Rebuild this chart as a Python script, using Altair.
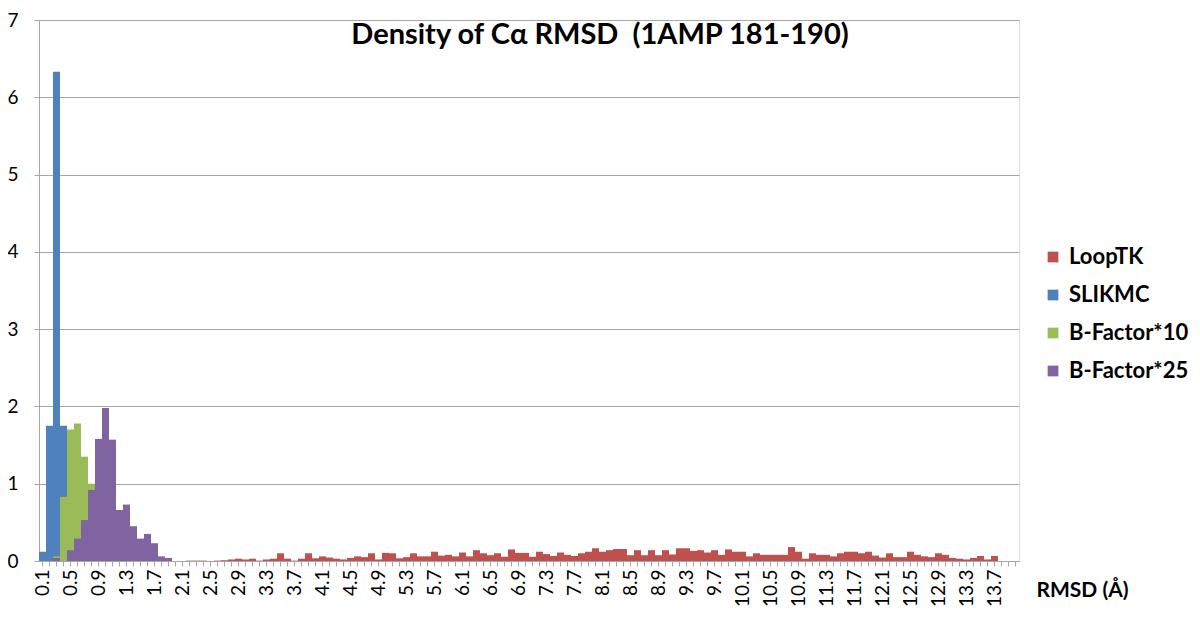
import altair as alt
import pandas as pd

# Bin labels (RMSD, Å)
categories = [f"{i / 10:.1f}" for i in range(1, 141)]

series_names = ["LoopTK", "SLIKMC", "B-Factor*10", "B-Factor*25"]
series_colors = ["#C0504D", "#4F81BD", "#9BBB59", "#8064A2"]

looptk = [
    0, 0, 0, 0, 0, 0, 0, 0, 0, 0,
    0, 0, 0, 0, 0, 0, 0, 0, 0, 0,
    0, 0.005, 0.005, 0.005, 0, 0.005, 0.01, 0.02, 0.03, 0.02,
    0.03, 0.005, 0.02, 0.03, 0.1, 0.03, 0.005, 0.03, 0.1, 0.035,
    0.06, 0.045, 0.03, 0.02, 0.04, 0.06, 0.05, 0.1, 0.02, 0.105,
    0.1, 0.035, 0.05, 0.1, 0.06, 0.06, 0.12, 0.07, 0.08, 0.06,
    0.11, 0.06, 0.14, 0.1, 0.075, 0.1, 0.055, 0.15, 0.105, 0.105,
    0.055, 0.12, 0.09, 0.065, 0.11, 0.08, 0.065, 0.1, 0.12, 0.165,
    0.12, 0.14, 0.155, 0.155, 0.075, 0.14, 0.075, 0.14, 0.075, 0.14,
    0.085, 0.165, 0.165, 0.13, 0.14, 0.11, 0.14, 0.08, 0.15, 0.12,
    0.12, 0.06, 0.1, 0.08, 0.08, 0.08, 0.08, 0.18, 0.12, 0.03,
    0.1, 0.08, 0.08, 0.06, 0.1, 0.12, 0.12, 0.1, 0.12, 0.07,
    0.045, 0.1, 0.05, 0.05, 0.12, 0.08, 0.06, 0.05, 0.1, 0.08,
    0.04, 0.03, 0.02, 0.04, 0.065, 0.02, 0.065, 0, 0, 0,
]

slikmc = [0.12, 1.75, 6.33, 1.75] + [0] * 136

bfactor10 = [0, 0, 0.06, 0.83, 1.70, 1.78, 1.35, 1.0, 0.4, 0.15, 0.05] + [0] * 129

bfactor25 = [0, 0, 0.04, 0, 0.14, 0.29, 0.53, 0.92, 1.58, 1.98,
             1.57, 0.66, 0.73, 0.45, 0.29, 0.35, 0.23, 0.06, 0.04] + [0] * 121

rows = []
for name, vals in zip(series_names, [looptk, slikmc, bfactor10, bfactor25]):
    for c, v in zip(categories, vals):
        rows.append({"rmsd": c, "density": v, "series": name})
df = pd.DataFrame(rows)

FONT = "Lato"
GRAY = "#a6a6a6"

chart = alt.Chart(df).mark_bar(stroke=None).encode(
    x=alt.X(
        "rmsd:N",
        sort=categories,
        scale=alt.Scale(paddingInner=0, paddingOuter=0),
        axis=alt.Axis(
            labelAngle=270,
            labelExpr="(round(toNumber(datum.value)*10) - 1) % 4 == 0 ? datum.value : ''",
            labelOverlap=False,
            labelFontSize=19,
            labelFont=FONT,
            labelColor="#000000",
            labelPadding=3,
            tickSize=5,
            tickColor=GRAY,
            domainColor=GRAY,
            grid=False,
            title="RMSD (Å)",
            titleX=1043,
            titleY=29,
            titleAlign="center",
            titleBaseline="middle",
            titleFont=FONT,
            titleFontSize=21,
            titleFontWeight="bold",
            titleColor="#000000",
        ),
    ),
    y=alt.Y(
        "density:Q",
        stack=None,
        scale=alt.Scale(domain=[0, 7], nice=False),
        axis=alt.Axis(
            values=[0, 1, 2, 3, 4, 5, 6, 7],
            grid=True,
            gridColor=GRAY,
            tickSize=5,
            tickColor=GRAY,
            domainColor=GRAY,
            labelFontSize=19,
            labelFont=FONT,
            labelColor="#000000",
            labelPadding=16,
            title=None,
        ),
    ),
    color=alt.Color(
        "series:N",
        scale=alt.Scale(domain=series_names, range=series_colors),
        legend=alt.Legend(
            title=None,
            orient="none",
            legendX=1003,
            legendY=226,
            symbolType="square",
            symbolSize=115,
            symbolStrokeWidth=0,
            labelFont=FONT,
            labelFontSize=22,
            labelFontWeight="bold",
            labelColor="#000000",
            rowPadding=16,
            labelOffset=5,
        ),
    ),
).properties(
    width=980,
    height=541,
    title=alt.TitleParams(
        "Density of Cα RMSD\u00a0\u00a0(1AMP 181-190)",
        font=FONT,
        fontSize=29,
        fontWeight="bold",
        color="#000000",
        anchor="middle",
        dx=71,
        dy=43,
    ),
    autosize=alt.AutoSizeParams(type="none"),
    padding={"left": 31, "top": 12, "right": 173, "bottom": 52},
).configure_view(stroke=None).configure(background="white")

chart.save("out.html", embed_options={"renderer": "svg", "actions": False})
